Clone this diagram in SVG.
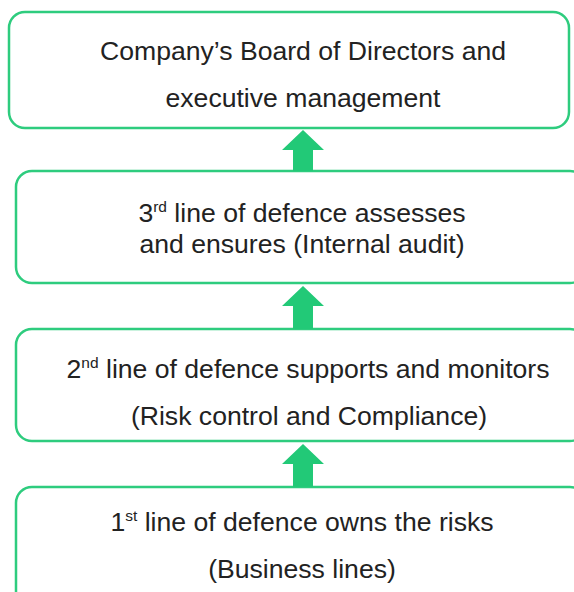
<svg xmlns="http://www.w3.org/2000/svg" width="574" height="592" viewBox="0 0 574 592">
<style>
.box{fill:#fff;stroke:#2ecc7e;stroke-width:2.5}
.t{font-family:"Liberation Sans",Arial,sans-serif;font-size:26.6px;fill:#222;text-anchor:middle}
.sup{font-size:15.5px}
.arr{fill:#22c977}
</style>
<rect width="574" height="592" fill="#fff"/>
<g id="board">
<rect class="box" x="9" y="12" width="560" height="116" rx="16"/>
<text class="t" x="303" y="60">Company’s Board of Directors and</text>
<text class="t" x="303" y="107">executive management</text>
</g>
<g id="line3">
<rect class="box" x="16" y="171" width="570" height="112" rx="16"/>
<text class="t" x="302" y="222">3<tspan class="sup" dy="-10">rd</tspan><tspan dy="10"> line of defence assesses</tspan></text>
<text class="t" x="302" y="253">and ensures (Internal audit)</text>
</g>
<g id="line2">
<rect class="box" x="16" y="329" width="570" height="112" rx="16"/>
<text class="t" x="308" y="378">2<tspan class="sup" dy="-10">nd</tspan><tspan dy="10"> line of defence supports and monitors</tspan></text>
<text class="t" x="309" y="425">(Risk control and Compliance)</text>
</g>
<g id="line1">
<rect class="box" x="16" y="487" width="570" height="130" rx="16"/>
<text class="t" x="302" y="531">1<tspan class="sup" dy="-10">st</tspan><tspan dy="10"> line of defence owns the risks</tspan></text>
<text class="t" x="302" y="578">(Business lines)</text>
</g>
<g id="connectors">
<polygon class="arr" points="303,130 324,150 313,150 313,171 293,171 293,150 282,150"/>
<polygon class="arr" points="303,286 324,306 313,306 313,329 293,329 293,306 282,306"/>
<polygon class="arr" points="303,444 324,464 313,464 313,487 293,487 293,464 282,464"/>
</g>
</svg>
